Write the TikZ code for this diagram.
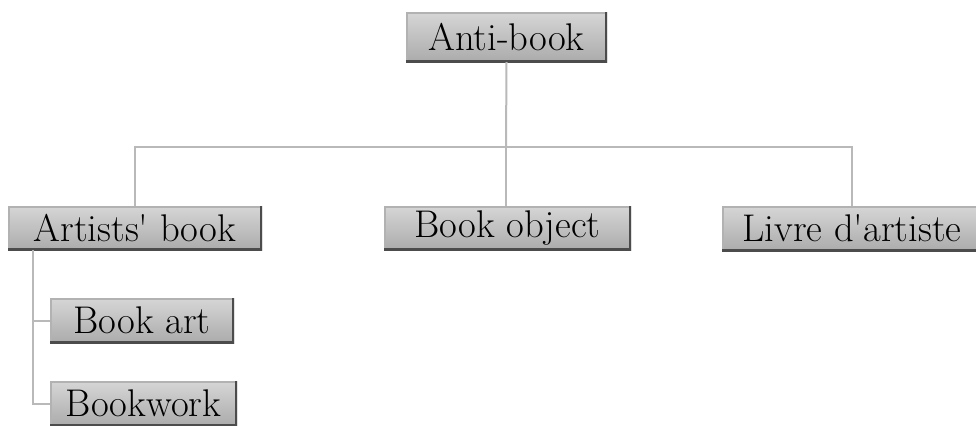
\documentclass[tikz,border=0pt]{standalone}
\usetikzlibrary{calc}
\begin{document}
\begin{tikzpicture}[x=0.5pt,y=-0.5pt,
  box/.style={rectangle, anchor=north west, inner sep=0pt, outer sep=0pt,
    top color=gray!32, bottom color=gray!66,
    font=\fontsize{19.3}{22}\selectfont,
    path picture={
      \draw[gray!60, line width=1.6pt]
        (path picture bounding box.south west) -- (path picture bounding box.north west)
        -- (path picture bounding box.north east);
      \draw[black!70, line width=2pt]
        (path picture bounding box.south west) -- (path picture bounding box.south east)
        -- (path picture bounding box.north east);}},
  conn/.style={draw=gray!55, line width=1pt}]
\useasboundingbox[fill=white] (0,0) rectangle (976,425);
\begin{scope}
\clip (0,0) rectangle (976,425);
\node[box, minimum width=100.5pt, minimum height=25pt] (anti) at (406,12) {Anti-book};
\node[box, minimum width=127pt, minimum height=22pt] (artists) at (8,206) {Artists\textquotesingle{} book};
\node[box, minimum width=123.5pt, minimum height=22pt] (bookobj) at (384,206) {Book object};
\node[box, minimum width=136pt, minimum height=22.5pt] (livre) at (722,206) {\hspace*{-6pt}Livre d\textquotesingle artiste};
\node[box, minimum width=92pt, minimum height=22.5pt] (bookart) at (50,298) {Book art};
\node[box, minimum width=93.5pt, minimum height=22.5pt] (bookwork) at (50,381) {Bookwork};
\end{scope}
\coordinate (jt) at (506,147);
\coordinate (sp) at ($(artists.south west)+(25,0)$);
\draw[conn] (anti.south) -- (jt);
\draw[conn] (artists.north) -- (artists.north |- jt) -- (jt -| 852,0) -- (852,206);
\draw[conn] (jt) -- (jt |- bookobj.north);
\draw[conn] (sp) |- (bookwork.west);
\draw[conn] (sp |- bookart.west) -- (bookart.west);
\end{tikzpicture}
\end{document}
